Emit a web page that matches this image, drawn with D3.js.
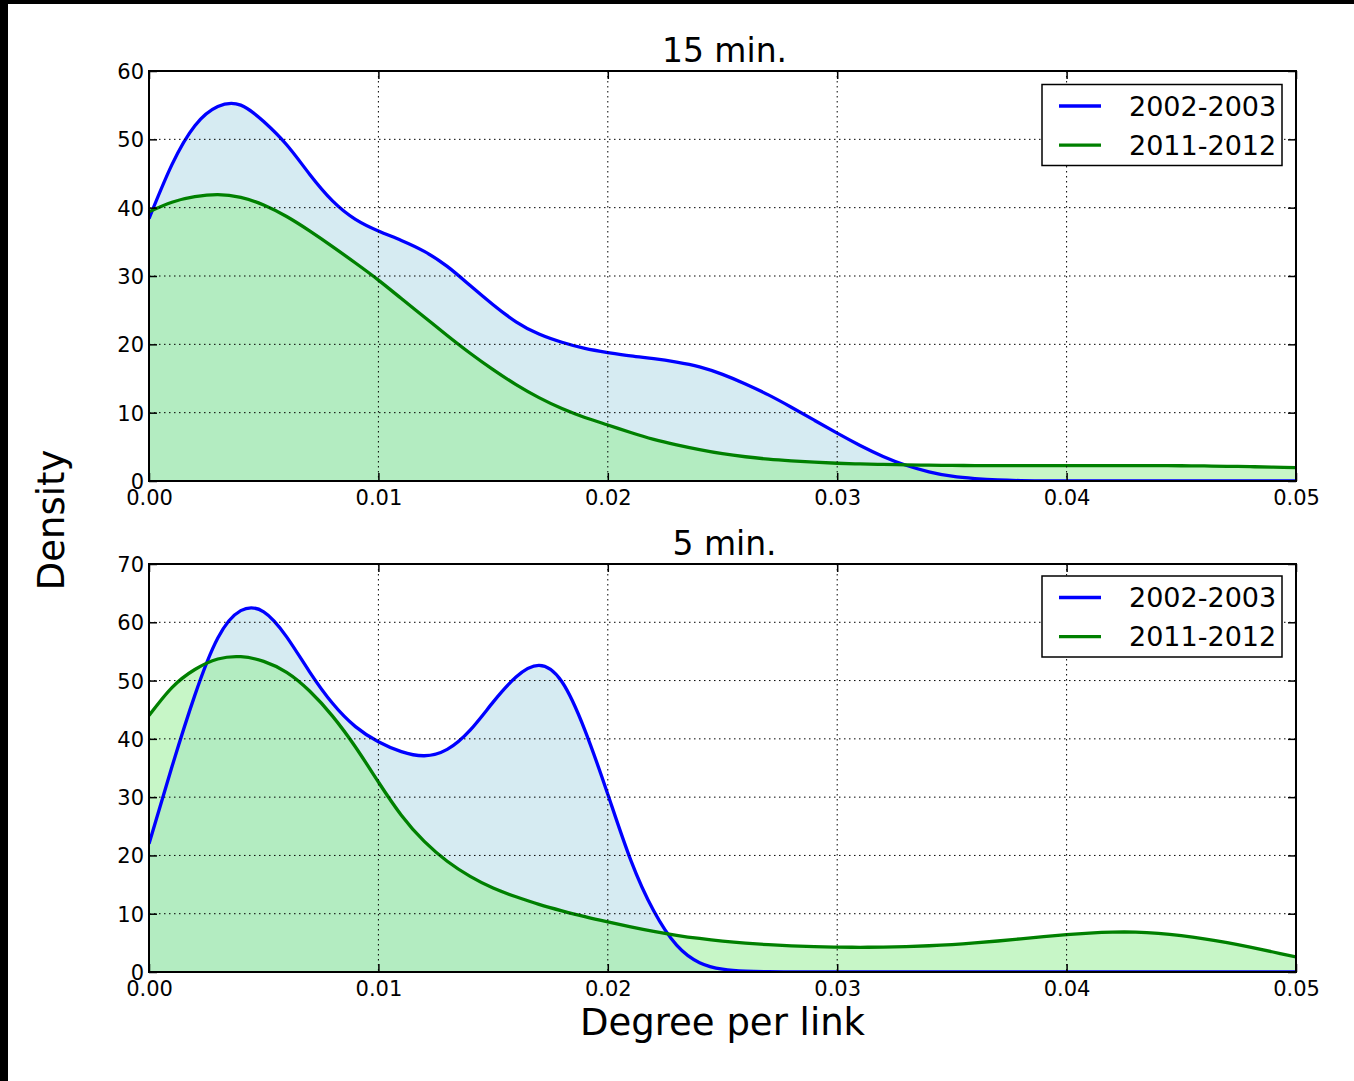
<!DOCTYPE html>
<html>
<head>
<meta charset="utf-8">
<script src="https://cdnjs.cloudflare.com/ajax/libs/d3/7.8.5/d3.min.js"></script>
<style>
  body { margin: 0; background: #fff; }
  svg { display: block; }
  text { font-family: "DejaVu Sans", sans-serif; fill: #000; }
</style>
</head>
<body>
<script>
// Series labels and panel titles
const seriesNames = ["2002-2003", "2011-2012"];
const panelTitles = ["15 min.", "5 min."];

// Tick values
const xTicks = [0, 0.01, 0.02, 0.03, 0.04, 0.05];
const yTicks15 = [0, 10, 20, 30, 40, 50, 60];
const yTicks5 = [0, 10, 20, 30, 40, 50, 60, 70];

// Evaluation points (degree per link), shared by all density curves
const degree = [
  0, 0.001, 0.002, 0.003, 0.004, 0.005, 0.006, 0.007, 0.008, 0.009,
  0.010, 0.011, 0.012, 0.013, 0.014, 0.015, 0.016, 0.017, 0.018, 0.019,
  0.020, 0.021, 0.022, 0.023, 0.024, 0.025, 0.026, 0.027, 0.028, 0.029,
  0.030, 0.031, 0.032, 0.033, 0.034, 0.035, 0.036, 0.037, 0.038, 0.039,
  0.040, 0.041, 0.042, 0.043, 0.044, 0.045, 0.046, 0.047, 0.048, 0.049, 0.050
];

// Density, 15 min. window
const dens15_2002 = [
  38.4, 46.3, 52.0, 54.8, 55.0, 52.6, 49.2, 44.9, 41.0, 38.3,
  36.6, 35.2, 33.6, 31.4, 28.6, 25.8, 23.3, 21.5, 20.3, 19.4,
  18.8, 18.3, 17.9, 17.4, 16.7, 15.6, 14.2, 12.6, 10.8, 8.9,
  7.0, 5.2, 3.6, 2.3, 1.35, 0.7, 0.35, 0.15, 0.06, 0.02,
  0, 0, 0, 0, 0, 0, 0, 0, 0, 0, 0
];
const dens15_2011 = [
  39.4, 40.8, 41.6, 41.9, 41.5, 40.4, 38.7, 36.6, 34.3, 31.9,
  29.4, 26.7, 24.0, 21.3, 18.7, 16.3, 14.1, 12.2, 10.6, 9.3,
  8.2, 7.1, 6.1, 5.3, 4.6, 4.0, 3.55, 3.2, 2.95, 2.75,
  2.6, 2.5, 2.42, 2.36, 2.31, 2.28, 2.26, 2.25, 2.25, 2.25,
  2.25, 2.25, 2.25, 2.25, 2.25, 2.23, 2.2, 2.15, 2.1, 2.03, 1.95
];

// Density, 5 min. window
const dens5_2002 = [
  22.0, 35.2, 47.5, 57.3, 62.0, 61.8, 57.5, 51.5, 46.1, 42.1,
  39.5, 37.8, 37.1, 38.2, 41.5, 46.3, 50.6, 52.6, 49.8, 41.5,
  30.5, 19.2, 10.5, 4.6, 1.6, 0.5, 0.15, 0.04, 0, 0,
  0, 0, 0, 0, 0, 0, 0, 0, 0, 0,
  0, 0, 0, 0, 0, 0, 0, 0, 0, 0, 0
];
const dens5_2011 = [
  44.0, 48.8, 51.9, 53.7, 54.1, 53.3, 51.4, 48.2, 43.9, 38.6,
  32.6, 26.9, 22.4, 19.0, 16.4, 14.4, 12.9, 11.6, 10.5, 9.5,
  8.6, 7.75, 6.97, 6.3, 5.75, 5.3, 4.95, 4.68, 4.48, 4.35,
  4.27, 4.24, 4.27, 4.36, 4.5, 4.7, 4.98, 5.32, 5.7, 6.08,
  6.42, 6.68, 6.84, 6.84, 6.64, 6.25, 5.7, 5.02, 4.25, 3.43, 2.6
];

const W = 1354, H = 1081;
const svg = d3.select("body").append("svg").attr("width", W).attr("height", H);
svg.append("rect").attr("width", W).attr("height", H).attr("fill", "#fff");
// dark frame edges
svg.append("rect").attr("x", 0).attr("y", 0).attr("width", W).attr("height", 4).attr("fill", "#000");
svg.append("rect").attr("x", 0).attr("y", 0).attr("width", 8).attr("height", H).attr("fill", "#000");

const lineColors = ["#0000ff", "#008000"];
const fillColors = ["rgba(173,216,230,0.5)", "rgba(144,238,144,0.5)"];

const panels = [
  { title: panelTitles[0], top: 71, bottom: 481, yMax: 60, yTicks: yTicks15, series: [dens15_2002, dens15_2011], legendY: 84.5 },
  { title: panelTitles[1], top: 564, bottom: 972, yMax: 70, yTicks: yTicks5, series: [dens5_2002, dens5_2011], legendY: 576 }
];
const left = 149, right = 1296;
const curve = d3.curveNatural;

panels.forEach((p, pi) => {
  const x = d3.scaleLinear().domain([0, 0.05]).range([left, right]);
  const y = d3.scaleLinear().domain([0, p.yMax]).range([p.bottom, p.top]);
  const g = svg.append("g");
  const clipId = "clip" + pi;
  svg.append("clipPath").attr("id", clipId)
    .append("rect").attr("x", left).attr("y", p.top).attr("width", right - left).attr("height", p.bottom - p.top);

  const area = d3.area().x((d, i) => x(degree[i])).y0(y(0)).y1(d => y(d)).curve(curve);
  const line = d3.line().x((d, i) => x(degree[i])).y(d => y(d)).curve(curve);

  const plot = g.append("g").attr("clip-path", `url(#${clipId})`);
  p.series.forEach((s, i) => {
    plot.append("path").datum(s).attr("d", area).attr("fill", fillColors[i]);
  });

  // dotted grid
  const grid = g.append("g").attr("stroke", "#000").attr("stroke-width", 1).attr("stroke-dasharray", "1.5,3.5");
  xTicks.slice(1, -1).forEach(t => {
    grid.append("line").attr("x1", x(t)).attr("x2", x(t)).attr("y1", p.top).attr("y2", p.bottom);
  });
  p.yTicks.slice(1, -1).forEach(t => {
    grid.append("line").attr("x1", left).attr("x2", right).attr("y1", y(t)).attr("y2", y(t));
  });

  p.series.forEach((s, i) => {
    plot.append("path").datum(s).attr("d", line).attr("fill", "none")
      .attr("stroke", lineColors[i]).attr("stroke-width", 3.3).attr("stroke-linejoin", "round");
  });

  // axes with inward ticks on all four sides
  const fmtX = d3.format(".2f");
  const axB = g.append("g").attr("transform", `translate(0,${p.bottom})`)
    .call(d3.axisBottom(x).tickValues(xTicks).tickFormat(fmtX).tickSizeInner(-8).tickSizeOuter(0).tickPadding(0));
  const axT = g.append("g").attr("transform", `translate(0,${p.top})`)
    .call(d3.axisTop(x).tickValues(xTicks).tickFormat("").tickSizeInner(-8).tickSizeOuter(0));
  const axL = g.append("g").attr("transform", `translate(${left},0)`)
    .call(d3.axisLeft(y).tickValues(p.yTicks).tickFormat(d3.format("d")).tickSizeInner(-8).tickSizeOuter(0).tickPadding(0));
  const axR = g.append("g").attr("transform", `translate(${right},0)`)
    .call(d3.axisRight(y).tickValues(p.yTicks).tickFormat("").tickSizeInner(-8).tickSizeOuter(0));
  [axB, axT, axL, axR].forEach(a => {
    a.select(".domain").remove();
    a.selectAll(".tick line").attr("stroke", "#000").attr("stroke-width", 1.5);
  });
  axB.selectAll(".tick text").attr("font-size", 21).attr("font-family", "DejaVu Sans")
    .attr("y", 24).attr("dy", null).attr("fill", "#000");
  axL.selectAll(".tick text").attr("font-size", 21).attr("font-family", "DejaVu Sans")
    .attr("x", -5).attr("dy", "0.36em").attr("fill", "#000");

  // frame
  g.append("rect").attr("x", left).attr("y", p.top).attr("width", right - left).attr("height", p.bottom - p.top)
    .attr("fill", "none").attr("stroke", "#000").attr("stroke-width", 2);

  // title
  g.append("text").attr("x", (left + right) / 2 + 2).attr("y", p.top - 9)
    .attr("text-anchor", "middle").attr("font-size", 33).text(p.title);

  // legend
  const lg = g.append("g").attr("transform", `translate(1042,${p.legendY})`);
  lg.append("rect").attr("width", 240).attr("height", 81).attr("fill", "#fff")
    .attr("stroke", "#000").attr("stroke-width", 1.5);
  seriesNames.forEach((n, i) => {
    const yy = 21.5 + i * 39.2;
    lg.append("line").attr("x1", 17).attr("x2", 59).attr("y1", yy).attr("y2", yy)
      .attr("stroke", lineColors[i]).attr("stroke-width", 3.3);
    lg.append("text").attr("x", 87).attr("y", yy + 9.5).attr("font-size", 27).text(n);
  });
});

// shared axis labels
svg.append("text").attr("x", (left + right) / 2).attr("y", 1035)
  .attr("text-anchor", "middle").attr("font-size", 37).text("Degree per link");
svg.append("text").attr("transform", "translate(64,520) rotate(-90)")
  .attr("text-anchor", "middle").attr("font-size", 37).text("Density");
</script>
</body>
</html>
